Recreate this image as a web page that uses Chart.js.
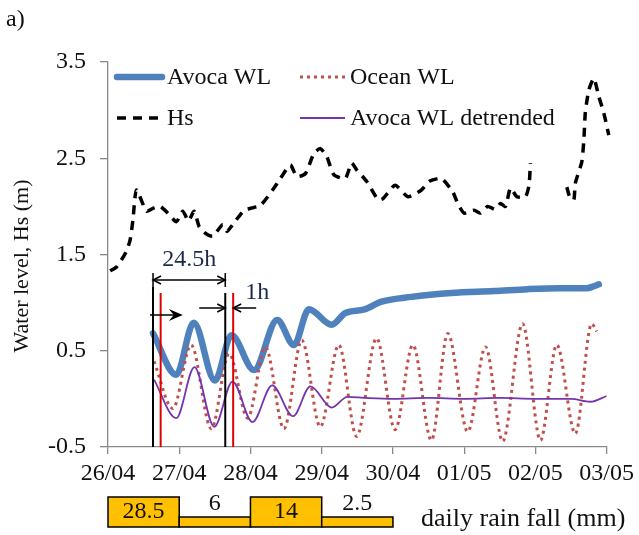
<!DOCTYPE html>
<html>
<head>
<meta charset="utf-8">
<title>Avoca water level</title>
<script src="https://cdn.jsdelivr.net/npm/chart.js@4.4.0/dist/chart.umd.min.js"></script>
<style>
  html, body { margin: 0; padding: 0; background: #fff; }
</style>
</head>
<body>
<canvas id="chartWL" width="639" height="535"></canvas>
<script>
// --- DATA (x = days after 26/04 00:00) ---
const dateLabels = ['26/04', '27/04', '28/04', '29/04', '30/04', '01/05', '02/05', '03/05'];
const yTicks = [-0.5, 0.5, 1.5, 2.5, 3.5];
const yTitle = 'Water level, Hs (m)';

const avocaDays = [0.632, 0.958, 1.204, 1.50, 1.734, 2.05, 2.375, 2.61, 2.82, 3.14, 3.33, 3.60, 3.84, 4.26, 4.82, 5.42, 5.89, 6.35, 6.72, 6.82, 6.89];
const avocaWL   = [0.68, 0.25, 0.79, 0.19, 0.66, 0.30, 0.82, 0.56, 0.93, 0.77, 0.89, 0.93, 1.01, 1.06, 1.10, 1.12, 1.14, 1.15, 1.15, 1.17, 1.19];

const oceanDays = [0.646, 0.91, 1.167, 1.45, 1.70, 1.96, 2.21, 2.47, 2.72, 2.98, 3.24, 3.49, 3.77, 4.03, 4.28, 4.54, 4.77, 5.05, 5.30, 5.54, 5.82, 6.07, 6.30, 6.56, 6.79, 6.86];
const oceanWL   = [0.39, -0.10, 0.56, -0.31, 0.47, -0.20, 0.54, -0.31, 0.61, -0.29, 0.56, -0.39, 0.63, -0.32, 0.56, -0.43, 0.68, -0.34, 0.54, -0.44, 0.78, -0.43, 0.56, -0.36, 0.78, 0.70];

const hsDays = [0.03, 0.12, 0.25, 0.31, 0.35, 0.40, 0.54, 0.63, 0.73, 0.84, 0.96, 1.05, 1.13, 1.21, 1.28, 1.37, 1.47, 1.61, 1.67, 1.75,
                1.91, 2.00, 2.14, 2.31, 2.42, 2.56, 2.65, 2.77, 2.89, 2.98, 3.07, 3.17, 3.33, 3.42, 3.49, 3.63, 3.79, 3.86, 4.03, 4.21,
                4.40, 4.51, 4.68, 4.84, 4.91, 5.00, 5.14, 5.23, 5.33, 5.43, 5.51, 5.58, 5.65, 5.74, 5.86, 5.91, 5.93, 6.20, 6.44, 6.49,
                6.54, 6.56, 6.65, 6.68, 6.70, 6.75, 6.82, 6.89, 6.96, 7.03];
const hsValues = [1.33, 1.37, 1.52, 1.65, 1.86, 2.17, 1.95, 1.98, 2.00, 1.93, 1.84, 1.95, 1.85, 1.95, 1.79, 1.72, 1.69, 1.81, 1.74, 1.81,
                  1.96, 1.98, 2.01, 2.17, 2.29, 2.43, 2.31, 2.34, 2.55, 2.60, 2.52, 2.33, 2.29, 2.45, 2.38, 2.26, 2.07, 2.08, 2.22, 2.10,
                  2.17, 2.26, 2.29, 2.15, 2.03, 1.93, 1.96, 1.93, 2.00, 1.97, 2.03, 2.00, 2.19, 2.10, 2.10, 2.22, 2.45, null, 2.20, 2.08,
                  2.07, 2.24, 2.46, 2.69, 2.97, 3.21, 3.33, 3.14, 2.97, 2.74];

const detrDays = [0.646, 0.958, 1.213, 1.492, 1.748, 2.027, 2.305, 2.598, 2.841, 3.142, 3.36, 3.60, 4.00, 4.50, 5.00, 5.50, 6.00, 6.50, 6.77, 7.00];
const detrWL   = [0.20, -0.20, 0.33, -0.29, 0.18, -0.24, 0.14, -0.18, 0.13, -0.09, 0.02, 0.01, 0.00, 0.01, 0.00, 0.01, 0.00, 0.00, -0.03, 0.03];

// tide peak (black) and lagged lagoon peak (red) times, days
const tidePeaks = [0.632, 1.646];
const lagoonPeaks = [0.739, 1.757];
const lagLabels = ['24.5h', '1h'];

// daily rainfall
const rainDays = [0, 1, 2, 3];
const rainMM = [28.5, 6, 14, 2.5];

const toPoints = (xs, ys) => xs.map((x, i) => ({ x: x, y: ys[i] }));

// --- STYLE ---
const colBlue = '#4F81BD';
const colRed = '#C0504D';
const colPurple = '#7434AE';
const colAxis = '#8a8a8a';
const serif = '"Liberation Serif", "Times New Roman", serif';

Chart.defaults.font.family = serif;
Chart.defaults.color = '#111';

// --- PLUGIN: legend, annotations, rainfall strip ---
const extrasPlugin = {
    id: 'extras',
    afterDraw(chart) {
        const ctx = chart.ctx;
        const xs = chart.scales.x;
        const axisY = chart.chartArea.bottom;

        ctx.save();

        // legend
        const legendPos = [[117, 77], [300, 77], [117, 118], [300, 118]];
        chart.data.datasets.forEach((ds, i) => {
            const [lx, ly] = legendPos[i];
            ctx.save();
            ctx.strokeStyle = ds.borderColor;
            ctx.lineWidth = ds.borderWidth;
            ctx.lineCap = ds.borderCapStyle || 'butt';
            ctx.setLineDash(ds.borderDash || []);
            ctx.beginPath();
            ctx.moveTo(lx, ly);
            ctx.lineTo(lx + 45, ly);
            ctx.stroke();
            ctx.restore();
            ctx.fillStyle = '#111';
            ctx.font = '24px ' + serif;
            ctx.textBaseline = 'middle';
            ctx.textAlign = 'left';
            ctx.fillText(ds.label, lx + 50, ly + 1);
        });

        // y axis title
        ctx.save();
        ctx.translate(22, 266);
        ctx.rotate(-Math.PI / 2);
        ctx.font = '22px ' + serif;
        ctx.textAlign = 'center';
        ctx.textBaseline = 'middle';
        ctx.fillStyle = '#111';
        ctx.fillText(yTitle, 0, 0);
        ctx.restore();

        // vertical peak markers
        const tops = [287, 293];
        ctx.lineWidth = 2;
        tidePeaks.forEach((d, i) => {
            const px = xs.getPixelForValue(d);
            ctx.strokeStyle = '#000';
            ctx.beginPath(); ctx.moveTo(px, tops[i]); ctx.lineTo(px, axisY); ctx.stroke();
        });
        lagoonPeaks.forEach((d) => {
            const px = xs.getPixelForValue(d);
            ctx.strokeStyle = '#e00000';
            ctx.beginPath(); ctx.moveTo(px, 293); ctx.lineTo(px, axisY); ctx.stroke();
        });

        // arrows
        ctx.strokeStyle = '#000';
        ctx.fillStyle = '#000';
        ctx.lineWidth = 1.5;
        function arrow(x1, y, x2, filled) {
            const d = x2 > x1 ? 1 : -1;
            ctx.beginPath(); ctx.moveTo(x1, y); ctx.lineTo(x2 - (filled ? d * 6 : 0), y); ctx.stroke();
            ctx.beginPath();
            if (filled) {
                ctx.moveTo(x2, y); ctx.lineTo(x2 - d * 14, y - 6); ctx.lineTo(x2 - d * 9, y); ctx.lineTo(x2 - d * 14, y + 6);
                ctx.closePath(); ctx.fill();
            } else {
                ctx.moveTo(x2 - d * 8, y - 4); ctx.lineTo(x2, y); ctx.lineTo(x2 - d * 8, y + 4); ctx.stroke();
            }
        }
        const b1 = xs.getPixelForValue(tidePeaks[0]);
        const b2 = xs.getPixelForValue(tidePeaks[1]);
        const r2 = xs.getPixelForValue(lagoonPeaks[1]);

        // 24.5h dimension
        ctx.beginPath(); ctx.moveTo(b1, 273); ctx.lineTo(b1, 287); ctx.moveTo(b2, 273); ctx.lineTo(b2, 287); ctx.stroke();
        arrow((b1 + b2) / 2, 280, b1, false);
        arrow((b1 + b2) / 2, 280, b2, false);

        // tide arrow
        arrow(b1 - 3, 315, xs.getPixelForValue(1.05), true);
        // 1h arrows
        arrow(b2 - 26, 308, b2, false);
        arrow(r2 + 23, 308, r2, false);

        ctx.font = '24px ' + serif;
        ctx.textAlign = 'center';
        ctx.textBaseline = 'middle';
        ctx.fillStyle = '#1b2a4a';
        ctx.fillText(lagLabels[0], (b1 + b2) / 2, 260);
        ctx.fillText(lagLabels[1], r2 + 24, 293);

        // rainfall strip
        const stripBottom = 527;
        rainDays.forEach((d, i) => {
            const x1 = xs.getPixelForValue(d);
            const x2 = xs.getPixelForValue(d + 1);
            const h = rainMM[i] >= 10 ? 30 : 10;
            ctx.fillStyle = '#FFC000';
            ctx.fillRect(x1, stripBottom - h, x2 - x1, h);
            ctx.strokeStyle = '#000';
            ctx.lineWidth = 1.5;
            ctx.strokeRect(x1, stripBottom - h, x2 - x1, h);
            ctx.fillStyle = '#111';
            ctx.font = '24px ' + serif;
            ctx.textAlign = 'center';
            ctx.textBaseline = 'middle';
            const ty = h > 20 ? stripBottom - h / 2 : stripBottom - h - 13;
            ctx.fillText(String(rainMM[i]), (x1 + x2) / 2, ty);
        });
        ctx.font = '26px ' + serif;
        ctx.textAlign = 'left';
        ctx.textBaseline = 'alphabetic';
        ctx.fillStyle = '#111';
        ctx.fillText('daily rain fall (mm)', 421, 526);

        // panel label
        ctx.font = '24px ' + serif;
        ctx.textBaseline = 'middle';
        ctx.fillText('a)', 6, 20);

        ctx.restore();
    }
};

// --- CHART ---
document.addEventListener('DOMContentLoaded', function () {
    const ctxWL = document.getElementById('chartWL');
    new Chart(ctxWL, {
        type: 'line',
        data: {
            datasets: [
                {
                    label: 'Avoca WL',
                    data: toPoints(avocaDays, avocaWL),
                    borderColor: colBlue,
                    borderWidth: 6.5,
                    borderCapStyle: 'round',
                    cubicInterpolationMode: 'monotone',
                    pointRadius: 0,
                    order: 4
                },
                {
                    label: 'Ocean WL',
                    data: toPoints(oceanDays, oceanWL),
                    borderColor: colRed,
                    borderWidth: 3,
                    borderDash: [3, 4],
                    cubicInterpolationMode: 'monotone',
                    pointRadius: 0,
                    order: 3
                },
                {
                    label: 'Hs',
                    data: toPoints(hsDays, hsValues),
                    borderColor: '#000',
                    borderWidth: 3.5,
                    borderDash: [9, 7],
                    tension: 0.2,
                    spanGaps: false,
                    pointRadius: 0,
                    clip: 8,
                    order: 2
                },
                {
                    label: 'Avoca WL detrended',
                    data: toPoints(detrDays, detrWL),
                    borderColor: colPurple,
                    borderWidth: 1.8,
                    cubicInterpolationMode: 'monotone',
                    pointRadius: 0,
                    order: 1
                }
            ]
        },
        options: {
            responsive: false,
            animation: false,
            layout: { padding: { top: 62, right: 29, left: 0, bottom: 0 } },
            plugins: {
                legend: { display: false },
                tooltip: { enabled: false }
            },
            scales: {
                x: {
                    type: 'linear',
                    min: 0,
                    max: 7,
                    afterBuildTicks: (scale) => { scale.ticks = dateLabels.map((_, i) => ({ value: i })); },
                    afterFit: (scale) => { scale.height = 88; },
                    border: { color: colAxis, width: 1.3 },
                    grid: { drawOnChartArea: false, drawTicks: true, tickLength: 7, color: colAxis, lineWidth: 1.3 },
                    ticks: {
                        padding: 5,
                        maxRotation: 0,
                        autoSkip: false,
                        font: { size: 24 },
                        color: '#111',
                        callback: (v, i) => dateLabels[i]
                    }
                },
                y: {
                    min: -0.5,
                    max: 3.5,
                    afterBuildTicks: (scale) => { scale.ticks = yTicks.map(v => ({ value: v })); },
                    afterFit: (scale) => { scale.width = 108; },
                    border: { color: colAxis, width: 1.3 },
                    grid: { drawOnChartArea: false, drawTicks: true, tickLength: 8, color: colAxis, lineWidth: 1.3 },
                    ticks: {
                        padding: 14,
                        font: { size: 24 },
                        color: '#111',
                        callback: (v) => v.toFixed(1)
                    }
                }
            }
        },
        plugins: [extrasPlugin]
    });
});
</script>
</body>
</html>
